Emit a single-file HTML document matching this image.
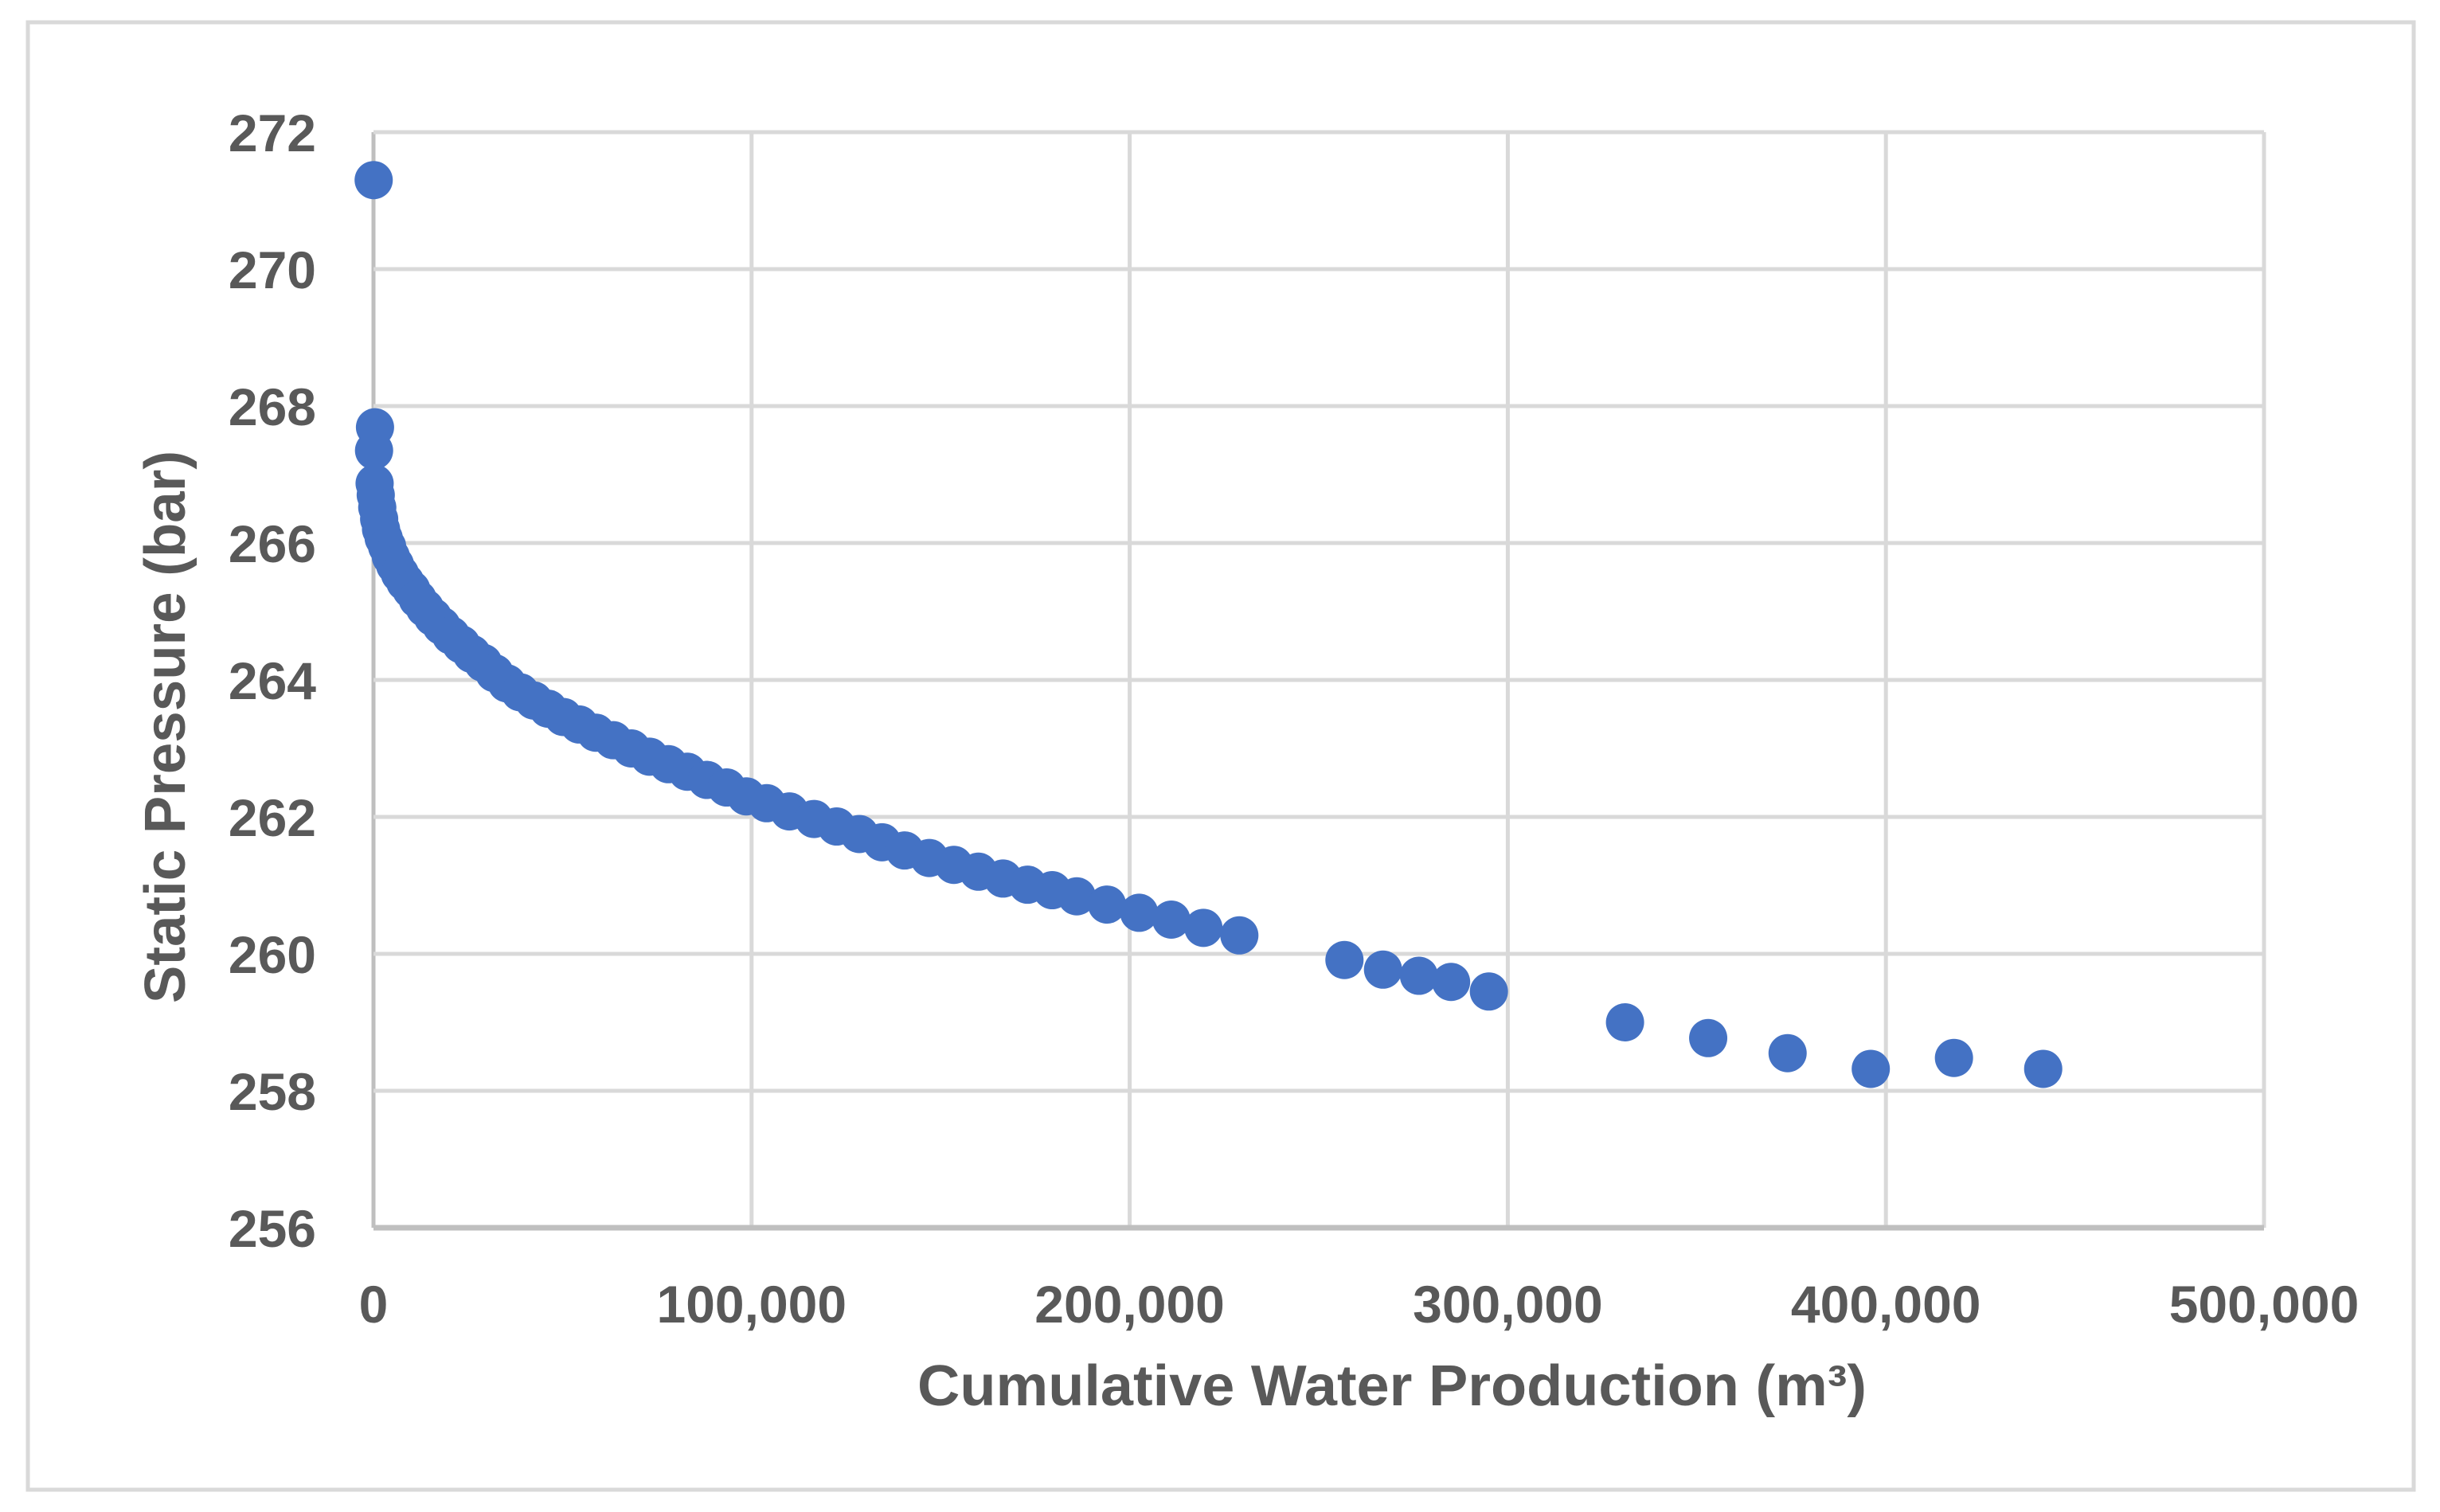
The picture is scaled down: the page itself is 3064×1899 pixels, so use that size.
<!DOCTYPE html>
<html><head><meta charset="utf-8"><style>
html,body{margin:0;padding:0;background:#fff;}
svg{display:block;}
text{font-family:"Liberation Sans",sans-serif;font-weight:bold;fill:#595959;}
</style></head><body>
<svg id="chart" width="3064" height="1899" viewBox="0 0 3064 1899" xmlns="http://www.w3.org/2000/svg">
<rect x="35" y="28" width="2996" height="1843" fill="#fff" stroke="#d9d9d9" stroke-width="5"/>
<g id="grid"></g>
<g id="yticks"></g>
<g id="xticks"></g>
<g id="points"></g>
<text x="1748" y="1765" text-anchor="middle" font-size="72" textLength="1192" lengthAdjust="spacingAndGlyphs">Cumulative Water Production (m³)</text>
<text x="232" y="913" text-anchor="middle" font-size="72" textLength="694" lengthAdjust="spacingAndGlyphs" transform="rotate(-90 232 913)">Static Pressure (bar)</text>
</svg>
<script>
const xTicks = [0, 100000, 200000, 300000, 400000, 500000];
const xTickLabels = ["0", "100,000", "200,000", "300,000", "400,000", "500,000"];
const yTicks = [256, 258, 260, 262, 264, 266, 268, 270, 272];
const yTickLabels = ["256", "258", "260", "262", "264", "266", "268", "270", "272"];
const xValsK = [0.05,0.4,0.15,
0.3,0.6,1,1.5,2,2.7,3.6,4.6,5.7,7,8.4,10,11.7,13.6,15.7,18,20.5,23.2,26,29,32,35.3,38.8,42.4,46.2,50.2,54.4,58.8,63.4,68.2,73,78,83,88.2,93.4,98.6,104,110,116.5,122.5,128.5,134.5,140.5,147,153.5,160,166.5,173,179.5,186,194,202.5,211,219.5,229,
256.8,267,276.5,285,295,331,353,374,396,418,441.6];
const pressure = [271.3,267.69,267.35,
266.87,266.7,266.52,266.35,266.2,266.07,265.95,265.8,265.68,265.55,265.43,265.32,265.18,265.05,264.92,264.79,264.65,264.52,264.38,264.25,264.1,263.95,263.82,263.7,263.58,263.46,263.35,263.23,263.12,263.0,262.88,262.77,262.66,262.54,262.43,262.3,262.2,262.08,261.97,261.86,261.75,261.63,261.51,261.4,261.3,261.2,261.1,261.01,260.93,260.84,260.72,260.6,260.5,260.38,260.27,
259.91,259.77,259.68,259.59,259.45,259.0,258.77,258.55,258.32,258.48,258.32];

const X0 = 469, X1 = 2843, Y0 = 1542, Y1 = 166;
const xMin = 0, xMax = 500000, yMin = 256, yMax = 272;
function sx(v){ return X0 + (v - xMin) / (xMax - xMin) * (X1 - X0); }
function sy(v){ return Y0 - (v - yMin) / (yMax - yMin) * (Y0 - Y1); }
const NS = "http://www.w3.org/2000/svg";
function mk(tag, attrs, parent){ const e = document.createElementNS(NS, tag); for (const k in attrs) e.setAttribute(k, attrs[k]); parent.appendChild(e); return e; }

const grid = document.getElementById('grid');
xTicks.forEach((t, i) => {
  const l = mk('line', {x1: sx(t), x2: sx(t), y1: Y1, y2: Y0, stroke: i === 0 ? '#bfbfbf' : '#d9d9d9', 'stroke-width': 5}, grid);
  
  
});
yTicks.forEach((t, i) => {
  const l = mk('line', {x1: X0, x2: X1, y1: sy(t), y2: sy(t), stroke: i === 0 ? '#bfbfbf' : '#d9d9d9', 'stroke-width': i === 0 ? 7 : 5}, grid);
  
  
});
const yg = document.getElementById('yticks');
yTicks.forEach((t, i) => {
  const tx = mk('text', {x: 397, y: sy(t) + 24, 'text-anchor': 'end', 'font-size': 66}, yg);
  tx.textContent = yTickLabels[i];
  
  
});
const xg = document.getElementById('xticks');
xTicks.forEach((t, i) => {
  const tx = mk('text', {x: sx(t), y: 1661, 'text-anchor': 'middle', 'font-size': 66}, xg);
  tx.textContent = xTickLabels[i];
  
  
});
const pg = document.getElementById('points');
xValsK.forEach((xv, i) => {
  const c = mk('circle', {cx: sx(xv * 1000), cy: sy(pressure[i]), r: 24, fill: '#4472c4'}, pg);
  
  
});
</script>
</body></html>
